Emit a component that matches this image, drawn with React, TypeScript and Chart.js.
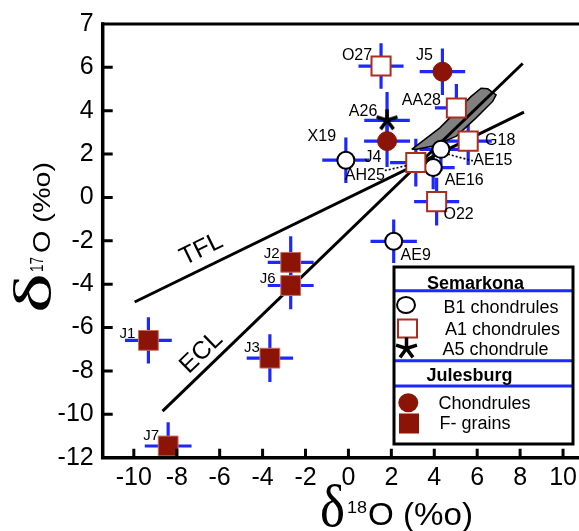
import React, { useEffect, useRef } from 'react';
import { Chart, registerables } from 'chart.js';

Chart.register(...registerables);

// ---------- data ----------
const xTicks = [-10, -8, -6, -4, -2, 0, 2, 4, 6, 8, 10];
const xTickLabels = ['-10', '-8', '-6', '-4', '-2', '0', '2', '4', '6', '8', '10'];
const yTicks = [-12, -10, -8, -6, -4, -2, 0, 2, 4, 6, 8];
const yTickLabels = ['-12', '-10', '-8', '-6', '-4', '-2', '0', '2', '4', '6', '7'];

// Semarkona B1 chondrules (open circles)
const b1Names = ['X19', 'AE15', 'AE16', 'AE9'];
const b1X = [-0.12, 4.31, 3.95, 2.11];
const b1Y = [1.72, 2.22, 1.38, -2.02];
const b1XErr = [1.1, 1.0, 1.0, 1.08];
const b1YErr = [1.05, 1.0, 1.0, 1.0];

// Semarkona A1 chondrules (open squares)
const a1Names = ['O27', 'AA28', 'AH25', 'G18', 'O22'];
const a1X = [1.52, 5.03, 3.14, 5.58, 4.11];
const a1Y = [6.06, 4.13, 1.61, 2.6, -0.19];
const a1XErr = [1.05, 1.0, 1.2, 1.1, 1.05];
const a1YErr = [1.05, 1.1, 1.1, 1.1, 1.1];

// Semarkona A5 chondrule (asterisk)
const a5Names = ['A26'];
const a5X = [1.8];
const a5Y = [3.56];
const a5XErr = [1.06];
const a5YErr = [1.3];

// Julesburg chondrules (filled circles)
const jcNames = ['J5', 'J4'];
const jcX = [4.38, 1.8];
const jcY = [5.8, 2.6];
const jcXErr = [1.06, 1.07];
const jcYErr = [1.07, 1.2];

// Julesburg F-grains (filled squares)
const fgNames = ['J1', 'J2', 'J6', 'J3', 'J7'];
const fgX = [-9.32, -2.69, -2.69, -3.66, -8.4];
const fgY = [-6.59, -2.99, -4.06, -7.41, -11.46];
const fgXErr = [1.09, 1.07, 1.07, 1.08, 1.09];
const fgYErr = [1.07, 1.2, 1.1, 1.1, 1.1];

// reference lines
const tflX = [-9.96, 8.18];
const tflY = [-4.82, 3.94];
const eclX = [-8.66, 8.12];
const eclY = [-9.85, 6.18];

// shaded field
const zoneX = [2.95, 4.26, 5.72, 6.18, 6.49, 6.88, 6.72, 5.95, 5.03, 3.95, 3.18, 2.95];
const zoneY = [2.22, 3.21, 4.66, 5.04, 5.01, 4.73, 4.43, 3.67, 2.83, 2.37, 2.22, 2.22];

// ---------- styles ----------
const SANS = "'Liberation Sans', Arial, Helvetica, sans-serif";
const SERIF = "'Liberation Serif', 'Times New Roman', serif";
const BLUE = 'rgb(30, 40, 250)';
const RED = 'rgb(140, 20, 6)';
const RED_EDGE = 'rgb(172, 44, 30)';

const LABEL_OFFSETS: Record<string, [number, number]> = {
  O27: [-24, -10], J5: [-18, -16], AA28: [-35, -7], A26: [-24, -9], X19: [-24, -24],
  J4: [-14, 16], AH25: [-51, 13], G18: [32, -1], AE15: [52, 11], AE16: [31, 13],
  O22: [22, 13], AE9: [22, 14], J2: [-19, -8], J6: [-23, -7], J1: [-21, -7],
  J3: [-18, -10], J7: [-17, -10],
};
const LEADERS: Record<string, [number, number, number, number]> = {
  AH25: [-31, 8, -9, 3],
  AE15: [7, 5, 32, 11.5],
};

function zip(xs: number[], ys: number[]) {
  return xs.map((x, i) => ({ x, y: ys[i] }));
}

function drawAsterisk(ctx: CanvasRenderingContext2D, cx: number, cy: number, r: number, lw: number) {
  ctx.save();
  ctx.strokeStyle = '#000';
  ctx.lineWidth = lw;
  ctx.lineCap = 'butt';
  ctx.beginPath();
  for (let k = 0; k < 5; k++) {
    const a = -Math.PI / 2 + (k * 2 * Math.PI) / 5;
    ctx.moveTo(cx, cy);
    ctx.lineTo(cx + r * Math.cos(a), cy + r * Math.sin(a));
  }
  ctx.stroke();
  ctx.restore();
}

function makeStarCanvas() {
  const c = document.createElement('canvas');
  c.width = 26;
  c.height = 26;
  const g = c.getContext('2d')!;
  drawAsterisk(g, 13, 13, 11, 3.5);
  return c;
}

function fitText(ctx: CanvasRenderingContext2D, text: string, font: string, x: number, y: number, width: number) {
  ctx.save();
  ctx.font = font;
  const w = ctx.measureText(text).width;
  ctx.translate(x, y);
  ctx.scale(width / w, 1);
  ctx.textAlign = 'left';
  ctx.textBaseline = 'alphabetic';
  ctx.fillText(text, 0, 0);
  ctx.restore();
}

const errorBarsPlugin = {
  id: 'errorBars',
  beforeDatasetsDraw(chart: any) {
    const { ctx, chartArea, scales } = chart;
    const xs = scales.x, ys = scales.y;
    ctx.save();
    ctx.beginPath();
    ctx.rect(chartArea.left, chartArea.top, chartArea.right - chartArea.left, chartArea.bottom - chartArea.top);
    ctx.clip();
    ctx.strokeStyle = BLUE;
    ctx.lineWidth = 3.2;
    chart.data.datasets.forEach((ds: any) => {
      if (!ds.errX) return;
      ds.data.forEach((p: any, i: number) => {
        const px = xs.getPixelForValue(p.x), py = ys.getPixelForValue(p.y);
        const x0 = xs.getPixelForValue(p.x - ds.errX[i]), x1 = xs.getPixelForValue(p.x + ds.errX[i]);
        const y0 = ys.getPixelForValue(p.y - ds.errY[i]), y1 = ys.getPixelForValue(p.y + ds.errY[i]);
        ctx.beginPath();
        ctx.moveTo(x0, py); ctx.lineTo(x1, py);
        ctx.moveTo(px, y0); ctx.lineTo(px, y1);
        ctx.stroke();
      });
    });
    ctx.restore();
  },
};

const decorPlugin = {
  id: 'decor',
  afterDraw(chart: any) {
    const { ctx, chartArea, scales } = chart;
    const xs = scales.x, ys = scales.y;
    const { left, right, top, bottom } = chartArea;
    ctx.save();

    // point labels + leader lines
    ctx.fillStyle = '#000';
    ctx.textAlign = 'center';
    ctx.textBaseline = 'middle';
    chart.data.datasets.forEach((ds: any) => {
      if (!ds.names) return;
      ds.data.forEach((p: any, i: number) => {
        const name = ds.names[i];
        const px = xs.getPixelForValue(p.x), py = ys.getPixelForValue(p.y);
        const off = LABEL_OFFSETS[name] || [0, -15];
        ctx.font = `${ds.labelSize}px ${SANS}`;
        ctx.fillText(name, px + off[0], py + off[1]);
        const ld = LEADERS[name];
        if (ld) {
          ctx.save();
          ctx.strokeStyle = '#000';
          ctx.lineWidth = 1.6;
          ctx.setLineDash([2, 2]);
          ctx.beginPath();
          ctx.moveTo(px + ld[0], py + ld[1]);
          ctx.lineTo(px + ld[2], py + ld[3]);
          ctx.stroke();
          ctx.restore();
        }
      });
    });

    // line captions
    const tflMid = { x: xs.getPixelForValue(-6.85), y: ys.getPixelForValue(-2.4) };
    ctx.save();
    ctx.translate(tflMid.x, tflMid.y);
    ctx.rotate(-0.455);
    ctx.font = `25px ${SANS}`;
    ctx.fillText('TFL', 0, 0);
    ctx.restore();
    const eclMid = { x: xs.getPixelForValue(-6.85), y: ys.getPixelForValue(-7.15) };
    ctx.save();
    ctx.translate(eclMid.x, eclMid.y);
    ctx.rotate(-0.77);
    ctx.font = `25px ${SANS}`;
    ctx.fillText('ECL', 0, 0);
    ctx.restore();

    // axes frame
    ctx.strokeStyle = '#000';
    ctx.lineCap = 'square';
    ctx.lineWidth = 3.5;
    ctx.beginPath();
    ctx.moveTo(left, top);
    ctx.lineTo(left, bottom);
    ctx.lineTo(right + 20, bottom);
    ctx.stroke();
    ctx.lineWidth = 3;
    ctx.beginPath();
    ctx.moveTo(left, top);
    ctx.lineTo(right + 20, top);
    ctx.stroke();

    // inward tick marks
    ctx.lineCap = 'butt';
    ctx.lineWidth = 3;
    ctx.beginPath();
    yTicks.forEach((v) => {
      if (v <= ys.min || v >= ys.max) return;
      const py = ys.getPixelForValue(v);
      ctx.moveTo(left, py); ctx.lineTo(left + 10, py);
    });
    xTicks.forEach((v) => {
      const px = xs.getPixelForValue(v);
      ctx.moveTo(px, bottom); ctx.lineTo(px, bottom - 9);
    });
    ctx.stroke();

    // axis titles
    ctx.fillStyle = '#000';
    // x: δ18O (%o)
    fitText(ctx, 'δ', `60px ${SERIF}`, 320, 526, 25);
    fitText(ctx, '18', `16px ${SANS}`, 347, 513, 20);
    fitText(ctx, 'O (%o)', `31px ${SANS}`, 368, 525, 105);
    // y: δ17O (%o) rotated
    ctx.save();
    ctx.translate(50, 313);
    ctx.rotate(-Math.PI / 2);
    fitText(ctx, 'δ', `53px ${SERIF}`, 0, 0, 40);
    fitText(ctx, '17', `18px ${SANS}`, 41, -7, 15);
    fitText(ctx, 'O (%o)', `24px ${SANS}`, 60, 0, 91);
    ctx.restore();

    // legend
    const L = 394, R = 573, T = 267, B = 444;
    ctx.fillStyle = '#fff';
    ctx.fillRect(L, T, R - L, B - T);
    ctx.strokeStyle = BLUE;
    ctx.lineWidth = 3;
    ctx.beginPath();
    [290.7, 360.7, 386].forEach((yy) => { ctx.moveTo(L, yy); ctx.lineTo(R, yy); });
    ctx.stroke();
    ctx.strokeStyle = '#000';
    ctx.lineWidth = 3;
    ctx.strokeRect(L, T, R - L, B - T);

    ctx.fillStyle = '#000';
    ctx.textBaseline = 'alphabetic';
    ctx.textAlign = 'center';
    ctx.font = `bold 18px ${SANS}`;
    ctx.fillText('Semarkona', 475.5, 288.5);
    ctx.fillText('Julesburg', 469.5, 381);
    ctx.textAlign = 'left';
    ctx.font = `18px ${SANS}`;
    ctx.fillText('B1 chondrules', 443.5, 313);
    ctx.fillText('A1 chondrules', 445, 335);
    ctx.fillText('A5 chondrule', 442.5, 355);
    ctx.fillText('Chondrules', 438.5, 409);
    ctx.fillText('F- grains', 439.5, 428.5);

    // legend symbols
    ctx.fillStyle = '#fff';
    ctx.strokeStyle = '#000';
    ctx.lineWidth = 2;
    ctx.beginPath();
    ctx.ellipse(406, 305, 9, 8, 0, 0, Math.PI * 2);
    ctx.fill(); ctx.stroke();
    ctx.strokeStyle = RED_EDGE;
    ctx.fillRect(398, 319.5, 19, 18);
    ctx.strokeRect(398, 319.5, 19, 18);
    drawAsterisk(ctx, 406.5, 348.5, 11, 3.5);
    ctx.fillStyle = RED;
    ctx.beginPath();
    ctx.ellipse(408.3, 402.7, 10, 9.5, 0, 0, Math.PI * 2);
    ctx.fill();
    ctx.fillRect(399, 413.5, 20, 20);

    ctx.restore();
  },
};

export default function App() {
  const ref = useRef<HTMLCanvasElement>(null);

  useEffect(() => {
    const canvas = ref.current;
    if (!canvas) return;
    const star = makeStarCanvas();
    const chart = new Chart(canvas, {
      type: 'scatter',
      data: {
        datasets: [
          {
            label: 'B1 chondrules',
            data: zip(b1X, b1Y),
            names: b1Names, errX: b1XErr, errY: b1YErr, labelSize: 16,
            pointStyle: 'circle', pointRadius: 8.5,
            backgroundColor: '#fff', borderColor: '#000', borderWidth: 2, order: 1,
          } as any,
          {
            label: 'A1 chondrules',
            data: zip(a1X, a1Y),
            names: a1Names, errX: a1XErr, errY: a1YErr, labelSize: 16,
            pointStyle: 'rect', pointRadius: 13.5,
            backgroundColor: '#fff', borderColor: RED_EDGE, borderWidth: 2, order: 0,
          } as any,
          {
            label: 'A5 chondrule',
            data: zip(a5X, a5Y),
            names: a5Names, errX: a5XErr, errY: a5YErr, labelSize: 16,
            pointStyle: star, pointRadius: 13, order: 2,
          } as any,
          {
            label: 'Julesburg chondrules',
            data: zip(jcX, jcY),
            names: jcNames, errX: jcXErr, errY: jcYErr, labelSize: 16,
            pointStyle: 'circle', pointRadius: 9.5,
            backgroundColor: RED, borderColor: RED, borderWidth: 1, order: 3,
          } as any,
          {
            label: 'F- grains',
            data: zip(fgX, fgY),
            names: fgNames, errX: fgXErr, errY: fgYErr, labelSize: 15,
            pointStyle: 'rect', pointRadius: 14,
            backgroundColor: RED, borderColor: 'rgb(200,110,95)', borderWidth: 1, order: 4,
          } as any,
          {
            type: 'line', label: 'TFL', data: zip(tflX, tflY),
            borderColor: '#000', borderWidth: 3, pointRadius: 0, fill: false, order: 10,
          } as any,
          {
            type: 'line', label: 'ECL', data: zip(eclX, eclY),
            borderColor: '#000', borderWidth: 3, pointRadius: 0, fill: false, order: 11,
          } as any,
          {
            type: 'line', label: 'field', data: zip(zoneX, zoneY),
            borderColor: '#000', borderWidth: 1.5, pointRadius: 0,
            backgroundColor: 'rgb(128,128,128)', fill: 'shape', order: 20,
          } as any,
        ],
      },
      options: {
        animation: false,
        responsive: false,
        devicePixelRatio: 1,
        events: [],
        layout: { padding: { left: 0, top: 20, right: 10.6, bottom: 0 } },
        plugins: { legend: { display: false }, tooltip: { enabled: false } },
        scales: {
          x: {
            type: 'linear',
            min: -11.45,
            max: 11,
            border: { display: false },
            grid: { display: false, drawTicks: false },
            afterBuildTicks: (s: any) => { s.ticks = xTicks.map((v) => ({ value: v })); },
            afterFit: (s: any) => { s.height = 73.3; },
            ticks: {
              autoSkip: false, maxRotation: 0, padding: 5, color: '#000',
              font: { family: SANS, size: 25 },
              callback: (_v: any, i: number) => xTickLabels[i],
            },
          },
          y: {
            type: 'linear',
            min: -12,
            max: 8,
            border: { display: false },
            grid: { display: false, drawTicks: false },
            afterBuildTicks: (s: any) => { s.ticks = yTicks.map((v) => ({ value: v })); },
            afterFit: (s: any) => { s.width = 102.7; },
            ticks: {
              autoSkip: false, padding: 9, color: '#000',
              font: { family: SANS, size: 25 },
              callback: (_v: any, i: number) => yTickLabels[i],
            },
          },
        },
      },
      plugins: [errorBarsPlugin, decorPlugin],
    } as any);
    return () => chart.destroy();
  }, []);

  return (
    <div style={{ position: 'fixed', left: 0, top: 0, width: 579, height: 531, overflow: 'hidden', background: '#fff' }}>
      <canvas ref={ref} width={600} height={531} style={{ display: 'block', width: 600, height: 531 }} />
    </div>
  );
}
